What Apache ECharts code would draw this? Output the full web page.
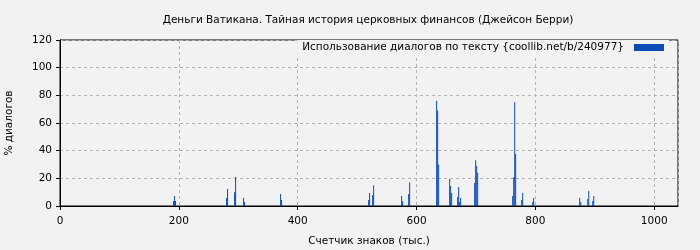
<!DOCTYPE html>
<html><head><meta charset="utf-8">
<script src="https://cdn.jsdelivr.net/npm/echarts@6/dist/echarts.min.js"></script>
<style>html,body{margin:0;padding:0;background:#f2f2f2}#c{width:700px;height:250px}</style>
</head><body><div id="c"></div>
<script>
var titleText = 'Деньги Ватикана. Тайная история церковных финансов (Джейсон Берри)';
var seriesName = 'Использование диалогов по тексту {coollib.net/b/240977}';
var xName = 'Счетчик знаков (тыс.)';
var yName = '% диалогов';
var positions = [191.1,192.8,194.4,280.3,282.0,293.8,295.5,308.9,310.6,371.2,372.9,519.4,521.0,526.1,527.8,574.9,576.6,586.7,588.4,633.8,635.5,637.2,655.7,657.4,659.1,669.2,670.9,672.6,674.2,697.8,699.5,701.2,702.9,761.8,763.5,765.2,766.8,776.9,778.6,795.5,797.1,874.6,876.3,888.1,889.8,896.5,898.2];
var values = [3.6,7.2,3.6,5.8,12.3,10,21,5.8,2.9,8.7,4.3,4.3,9.4,8,15,7.2,3.6,8.7,17,76,69,30,19.5,14.5,9.4,6.5,13.7,2.9,5.8,16.6,33,29,24,7.2,21,75,37.6,4.3,9.4,2.9,5.8,5.8,2.9,5,10.8,3.6,7.2];
var data = positions.map(function(p,i){return [p, values[i]];});
var font = 'DejaVu Sans';
var chart = echarts.init(document.getElementById('c'), null, {renderer:'canvas'});
chart.setOption({
  backgroundColor:'#f2f2f2',
  animation:false,
  title:{text:titleText,left:363,textAlign:'center',top:10,textStyle:{fontFamily:font,fontSize:10.5,fontWeight:'normal',color:'#000'}},
  legend:{data:[seriesName],right:31,top:40,align:'right',icon:'rect',itemWidth:30,itemHeight:7,itemGap:10,backgroundColor:'#f2f2f2',padding:[2,5,2,5],textStyle:{fontFamily:font,fontSize:10.5,color:'#000',padding:[0,5,0,0]}},
  grid:{left:60,right:22,top:40,bottom:44,containLabel:false,outerBoundsMode:'none',show:true,borderColor:'#000',borderWidth:1,backgroundColor:'transparent'},
  xAxis:{type:'value',min:0,max:1040,interval:200,name:xName,nameLocation:'middle',nameGap:30,
    nameTextStyle:{fontFamily:font,fontSize:10.5,color:'#000'},
    axisLine:{show:true,lineStyle:{color:'#000'}},axisTick:{show:true,length:4,lineStyle:{color:'#000'}},
    axisLabel:{fontFamily:font,fontSize:10.5,color:'#000',margin:10,showMaxLabel:false,formatter:function(v){return String(v);}},
    splitLine:{show:true,lineStyle:{color:'#b4b4b4',type:[3,3]}}},
  yAxis:{type:'value',min:0,max:120,interval:20,name:yName,nameLocation:'middle',nameGap:45,
    nameTextStyle:{fontFamily:font,fontSize:10.5,color:'#000'},
    axisLine:{show:true,lineStyle:{color:'#000'}},axisTick:{show:true,length:4,lineStyle:{color:'#000'}},
    axisLabel:{fontFamily:font,fontSize:10.5,color:'#000',margin:8},
    splitLine:{show:true,lineStyle:{color:'#b4b4b4',type:[3,3]}}},
  series:[{name:seriesName,type:'bar',data:data,barWidth:1,itemStyle:{color:'#0a4cb4'}}]
});
</script></body></html>
